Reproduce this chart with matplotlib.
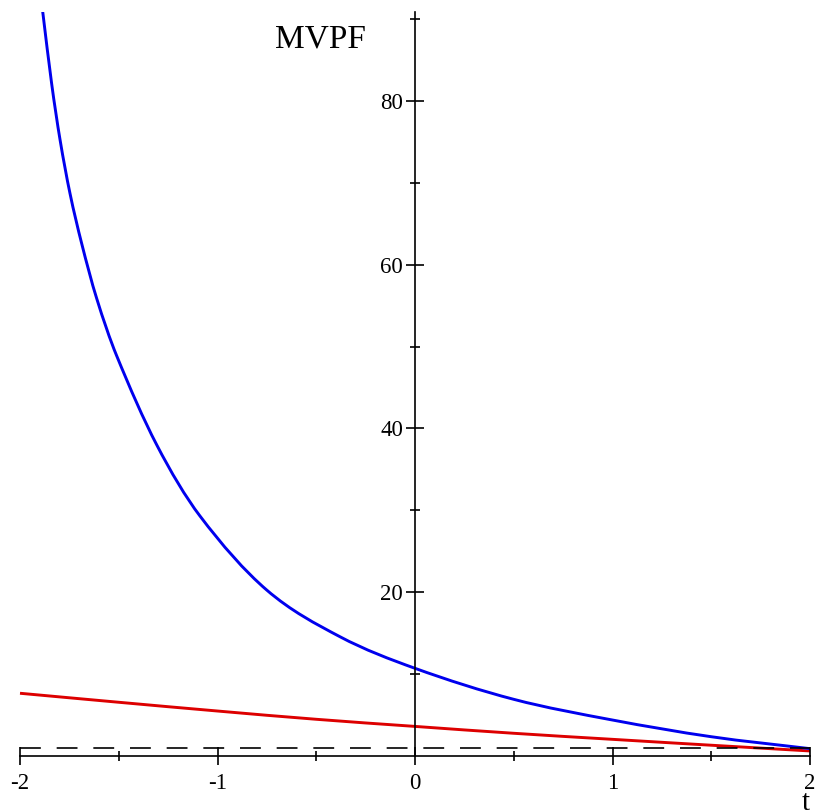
import matplotlib
matplotlib.use("Agg")
import numpy as np
import matplotlib.pyplot as plt
from matplotlib.path import Path
from matplotlib.patches import PathPatch
from matplotlib.ticker import FixedLocator

# Data
blue_t = [-1.885, -1.840, -1.797, -1.747, -1.688, -1.612, -1.511,
          -1.308, -1.089, -0.751, -0.380, 0.0, 0.5, 1.0, 1.5, 2.0]
blue_mvpf = [90.92, 82.17, 75.24, 68.73, 62.62, 55.90, 48.9,
             38.0, 29.3, 20.25, 14.54, 10.68, 6.89, 4.36, 2.32, 0.86]
red_t = [-2, -1.5, -1, -0.5, 0, 0.5, 1, 1.5, 2]
red_mvpf = [7.63, 6.53, 5.46, 4.45, 3.58, 2.74, 2.00, 1.28, 0.58]
ref_t = [-2, 2]
ref_mvpf = [1, 1]

x_major = [-2, -1, 0, 1, 2]
x_minor = [-1.5, -0.5, 0.5, 1.5]
y_major = [20, 40, 60, 80]
y_minor = [10, 30, 50, 70, 90]


def smooth_path(xs, ys):
    """Cubic Bezier path passing through the given points (Catmull-Rom tangents)."""
    p = np.column_stack([xs, ys]).astype(float)
    n = len(p)
    tang = np.zeros_like(p)
    for i in range(n):
        i0, i1 = max(i - 1, 0), min(i + 1, n - 1)
        tang[i] = (p[i1] - p[i0]) / (p[i1, 0] - p[i0, 0])
    verts = [tuple(p[0])]
    codes = [Path.MOVETO]
    for i in range(n - 1):
        h = p[i + 1, 0] - p[i, 0]
        c1 = p[i] + tang[i] * h / 3.0
        c2 = p[i + 1] - tang[i + 1] * h / 3.0
        verts += [tuple(c1), tuple(c2), tuple(p[i + 1])]
        codes += [Path.CURVE4] * 3
    return Path(verts, codes)


W, H = 817, 811
fig = plt.figure(figsize=(W / 100, H / 100), dpi=100)
ax = fig.add_axes([20 / W, (H - 755.7) / H, 790 / W, (755.7 - 11.7) / H])
ax.set_xlim(-2, 2)
ax.set_ylim(0, 90.92)

ax.plot(ref_t, ref_mvpf, color="black", lw=1.2, linestyle=(0, (12.5, 9.5)), clip_on=False)
ax.add_patch(PathPatch(smooth_path(red_t, red_mvpf), facecolor="none",
                       edgecolor="#dd0000", lw=2.1, clip_on=False))
ax.add_patch(PathPatch(smooth_path(blue_t, blue_mvpf), facecolor="none",
                       edgecolor="#0000ee", lw=2.1))

for s in ["top", "right"]:
    ax.spines[s].set_visible(False)
ax.spines["left"].set_position(("data", 0))
ax.spines["bottom"].set_position(("data", 0))
for s in ["left", "bottom"]:
    ax.spines[s].set_linewidth(1.2)

ax.xaxis.set_major_locator(FixedLocator(x_major))
ax.xaxis.set_minor_locator(FixedLocator(x_minor))
ax.yaxis.set_major_locator(FixedLocator(y_major))
ax.yaxis.set_minor_locator(FixedLocator(y_minor))
ax.set_xticklabels([str(v) for v in x_major])
ax.set_yticklabels([str(v) for v in y_major])

ax.tick_params(which="major", direction="inout", length=13, width=1.2)
ax.tick_params(which="minor", direction="inout", length=6.5, width=1.2)
ax.tick_params(axis="x", which="major", pad=6)
ax.tick_params(axis="y", which="major", pad=2)
for lab in ax.get_xticklabels() + ax.get_yticklabels():
    lab.set_fontfamily("Liberation Serif")
    lab.set_fontsize(16.5)

fig.text(320 / W, 1 - 47 / H, "MVPF", family="Liberation Serif", fontsize=24,
         ha="center", va="baseline")
fig.text(806 / W, 1 - 810.5 / H, "t", family="Liberation Serif", fontsize=21,
         ha="center", va="baseline")

fig.savefig("out.png", dpi=100)
